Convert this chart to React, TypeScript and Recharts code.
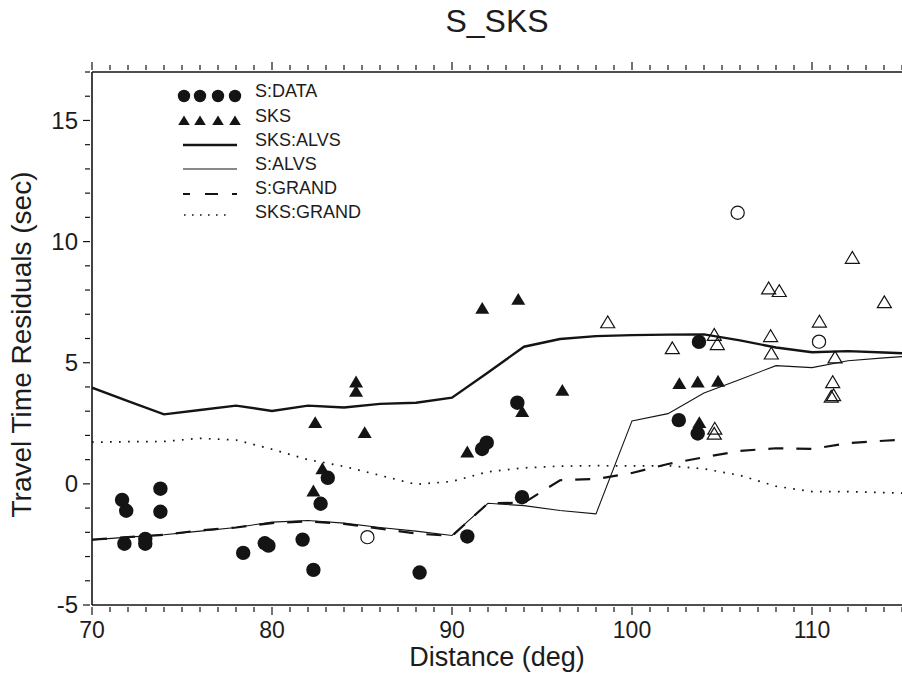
import React from "react";
import { ComposedChart, Line, Scatter, XAxis, YAxis, Legend } from "recharts";

const FONT = '"Liberation Sans", Arial, Helvetica, sans-serif';
const INK = "#141414";
const TXT = "#1c1c1c";

// model curves share one distance grid
const modelDist = [70, 72, 74, 76, 78, 80, 82, 84, 86, 88, 90, 92, 94, 96, 98, 100, 102, 104, 106, 108, 110, 112, 114, 115];
const sksAlvs = [3.97, 3.42, 2.87, 3.05, 3.23, 3.01, 3.23, 3.15, 3.3, 3.35, 3.56, 4.6, 5.66, 5.98, 6.1, 6.14, 6.16, 6.17, 5.92, 5.63, 5.43, 5.48, 5.42, 5.39];
const sAlvs = [-2.31, -2.2, -2.1, -1.95, -1.8, -1.58, -1.51, -1.62, -1.8, -1.95, -2.13, -0.8, -0.9, -1.1, -1.24, 2.6, 2.9, 3.75, 4.31, 4.88, 4.8, 5.08, 5.2, 5.25];
const sGrand = [-2.3, -2.2, -2.1, -1.92, -1.8, -1.62, -1.55, -1.65, -1.85, -2.05, -2.15, -0.8, -0.78, 0.15, 0.2, 0.45, 0.82, 1.1, 1.36, 1.47, 1.44, 1.68, 1.78, 1.82];
const sksGrand = [1.72, 1.74, 1.75, 1.88, 1.81, 1.43, 1.0, 0.72, 0.35, -0.02, 0.1, 0.5, 0.66, 0.73, 0.75, 0.74, 0.75, 0.62, 0.35, -0.1, -0.32, -0.32, -0.36, -0.38];

// S:DATA (filled circles)
const sDataDist = [71.67, 71.9, 71.8, 72.96, 72.96, 73.8, 73.8, 78.4, 79.6, 79.8, 81.7, 82.3, 82.7, 83.1, 88.2, 90.85, 91.67, 91.93, 93.63, 93.89, 102.6, 103.65, 103.72];
const sDataRes = [-0.66, -1.11, -2.47, -2.27, -2.47, -0.2, -1.15, -2.85, -2.45, -2.55, -2.3, -3.55, -0.82, 0.25, -3.66, -2.17, 1.44, 1.7, 3.35, -0.55, 2.63, 2.08, 5.86];

// SKS (filled triangles)
const sksDist = [82.3, 82.8, 82.4, 84.67, 84.67, 85.15, 90.85, 91.68, 93.68, 93.9, 96.13, 102.63, 103.65, 104.78, 103.74];
const sksRes = [-0.32, 0.6, 2.5, 4.18, 3.79, 2.09, 1.29, 7.22, 7.59, 2.96, 3.83, 4.11, 4.18, 4.21, 2.5];

// open symbols (not used in fit)
const sOpenDist = [85.3, 105.87, 110.39];
const sOpenRes = [-2.2, 11.19, 5.87];
const sksOpenDist = [98.65, 102.24, 104.57, 104.74, 104.6, 104.57, 107.59, 108.18, 107.7, 107.74, 110.41, 111.28, 111.15, 111.2, 111.07, 112.24, 114.02];
const sksOpenRes = [6.65, 5.58, 6.13, 5.75, 2.26, 2.05, 8.05, 7.94, 6.08, 5.36, 6.68, 5.2, 4.18, 3.64, 3.58, 9.31, 7.48];

const xMajor = [70, 80, 90, 100, 110];
const yMajor = [-5, 0, 5, 10, 15];
const xTicks = Array.from({ length: 46 }, (_, i) => 70 + i);
const yTicks = Array.from({ length: 23 }, (_, i) => -5 + i);

const zip = (xs: number[], ys: number[]) => xs.map((x, i) => ({ x, y: ys[i] }));

const BottomTick = (p: any) => {
  const v = p.payload.value;
  const major = xMajor.includes(v);
  return (
    <g>
      <line x1={p.x} y1={p.y} x2={p.x} y2={p.y + (major ? 8 : 5)} stroke={INK} strokeWidth={1.2} />
      {major && (
        <text x={p.x} y={p.y + 31} textAnchor="middle" fontSize={23} fill={TXT} fontFamily={FONT}>
          {v}
        </text>
      )}
    </g>
  );
};

const TopTick = (p: any) => {
  const major = xMajor.includes(p.payload.value);
  return <line x1={p.x} y1={p.y} x2={p.x} y2={p.y - (major ? 8 : 5)} stroke={INK} strokeWidth={1.2} />;
};

const LeftTick = (p: any) => {
  const v = p.payload.value;
  const major = yMajor.includes(v);
  return (
    <g>
      <line x1={p.x} y1={p.y} x2={p.x - (major ? 7 : 5)} y2={p.y} stroke={INK} strokeWidth={1.2} />
      {major && (
        <text x={p.x - 12} y={p.y} dy="0.35em" textAnchor="end" fontSize={24} fill={TXT} fontFamily={FONT}>
          {v}
        </text>
      )}
    </g>
  );
};

const FilledCircle = (p: any) => <circle cx={p.cx} cy={p.cy} r={7.2} fill={INK} />;
const OpenCircle = (p: any) => <circle cx={p.cx} cy={p.cy} r={6.6} fill="none" stroke={INK} strokeWidth={1.2} />;
const FilledTri = (p: any) => (
  <polygon points={`${p.cx},${p.cy - 7} ${p.cx - 7},${p.cy + 4.8} ${p.cx + 7},${p.cy + 4.8}`} fill={INK} />
);
const OpenTri = (p: any) => (
  <polygon
    points={`${p.cx},${p.cy - 6.8} ${p.cx - 7},${p.cy + 5} ${p.cx + 7},${p.cy + 5}`}
    fill="none"
    stroke={INK}
    strokeWidth={1.2}
  />
);

const LegendBox = () => {
  const labels = ["S:DATA", "SKS", "SKS:ALVS", "S:ALVS", "S:GRAND", "SKS:GRAND"];
  const base = [19, 43.5, 68, 92, 116, 140];
  const dots = [14, 30, 48, 65];
  return (
    <svg width={260} height={150} style={{ overflow: "visible" }}>
      {dots.map((d) => (
        <circle key={"c" + d} cx={d} cy={18} r={6.2} fill={INK} />
      ))}
      {dots.map((d) => (
        <polygon key={"t" + d} points={`${d},${37.5} ${d - 5.8},${47} ${d + 5.8},${47}`} fill={INK} />
      ))}
      <line x1={13} y1={67} x2={67} y2={67} stroke={INK} strokeWidth={2.4} />
      <line x1={13} y1={91} x2={67} y2={91} stroke={INK} strokeWidth={1.1} />
      <line x1={13} y1={116} x2={67} y2={116} stroke={INK} strokeWidth={2} strokeDasharray="7 15 13 14 5" />
      <line x1={14} y1={137} x2={62} y2={137} stroke={INK} strokeWidth={1.6} strokeDasharray="1.6 6.4" />
      {labels.map((t, i) => (
        <text key={t} x={85} y={base[i]} fontSize={18} fill={TXT} fontFamily={FONT}>
          {t}
        </text>
      ))}
    </svg>
  );
};

const TitleLabel = (p: any) => {
  const vb = p.viewBox || { x: 92, y: 71, width: 810 };
  return (
    <text x={vb.x + vb.width / 2} y={vb.y - 39} textAnchor="middle" fontSize={32} fill={TXT} fontFamily={FONT}>
      S_SKS
    </text>
  );
};

const XLabel = (p: any) => {
  const vb = p.viewBox || { x: 92, y: 605, width: 810 };
  return (
    <text x={vb.x + vb.width / 2} y={vb.y + 61} textAnchor="middle" fontSize={27} fill={TXT} fontFamily={FONT}>
      Distance (deg)
    </text>
  );
};

const YLabel = (p: any) => {
  const vb = p.viewBox || { x: 0, y: 72, height: 533 };
  const cx = vb.x + 31;
  const cy = vb.y + vb.height / 2 + 6;
  return (
    <text
      x={cx}
      y={cy}
      transform={`rotate(-90 ${cx} ${cy})`}
      textAnchor="middle"
      fontSize={28}
      fill={TXT}
      fontFamily={FONT}
    >
      Travel Time Residuals (sec)
    </text>
  );
};

export default function App() {
  return (
    <div style={{ position: "absolute", left: 0, top: 0, width: 902, height: 681, background: "#fff" }}>
      <ComposedChart width={902} height={681} margin={{ top: 71, right: 0, bottom: 0, left: 0 }}>
        <XAxis
          dataKey="x"
          type="number"
          domain={[70, 115]}
          ticks={xTicks}
          interval={0}
          allowDataOverflow
          height={76}
          tickSize={0}
          tick={BottomTick}
          axisLine={{ stroke: INK, strokeWidth: 1.6 }}
          label={{ content: XLabel }}
        />
        <XAxis
          xAxisId="top"
          orientation="top"
          dataKey="x"
          type="number"
          domain={[70, 115]}
          ticks={xTicks}
          interval={0}
          allowDataOverflow
          height={1}
          tickSize={0}
          tick={TopTick}
          axisLine={{ stroke: INK, strokeWidth: 1.6 }}
          label={{ content: TitleLabel }}
        />
        <YAxis
          type="number"
          domain={[-5, 17]}
          ticks={yTicks}
          interval={0}
          allowDataOverflow
          width={92}
          tickSize={0}
          tick={LeftTick}
          axisLine={{ stroke: INK, strokeWidth: 1.6 }}
          label={{ content: YLabel }}
        />
        <Legend
          layout="vertical"
          align="center"
          verticalAlign="middle"
          wrapperStyle={{ left: 170, top: 78, width: 260, height: 150 }}
          content={LegendBox}
        />
        <Line data={zip(modelDist, sksAlvs)} dataKey="y" name="SKS:ALVS" type="linear" dot={false} stroke={INK} strokeWidth={2.4} isAnimationActive={false} />
        <Line data={zip(modelDist, sAlvs)} dataKey="y" name="S:ALVS" type="linear" dot={false} stroke={INK} strokeWidth={1.1} isAnimationActive={false} />
        <Line data={zip(modelDist, sGrand)} dataKey="y" name="S:GRAND" type="linear" dot={false} stroke={INK} strokeWidth={2.2} strokeDasharray="15 13" isAnimationActive={false} />
        <Line data={zip(modelDist, sksGrand)} dataKey="y" name="SKS:GRAND" type="linear" dot={false} stroke={INK} strokeWidth={1.7} strokeDasharray="1.7 7.3" isAnimationActive={false} />
        <Scatter xAxisId="top" data={zip(sOpenDist, sOpenRes)} dataKey="y" name="S unused" shape={OpenCircle} isAnimationActive={false} />
        <Scatter data={zip(sksOpenDist, sksOpenRes)} dataKey="y" name="SKS unused" shape={OpenTri} isAnimationActive={false} />
        <Scatter data={zip(sDataDist, sDataRes)} dataKey="y" name="S:DATA" shape={FilledCircle} isAnimationActive={false} />
        <Scatter data={zip(sksDist, sksRes)} dataKey="y" name="SKS" shape={FilledTri} isAnimationActive={false} />
      </ComposedChart>
    </div>
  );
}
